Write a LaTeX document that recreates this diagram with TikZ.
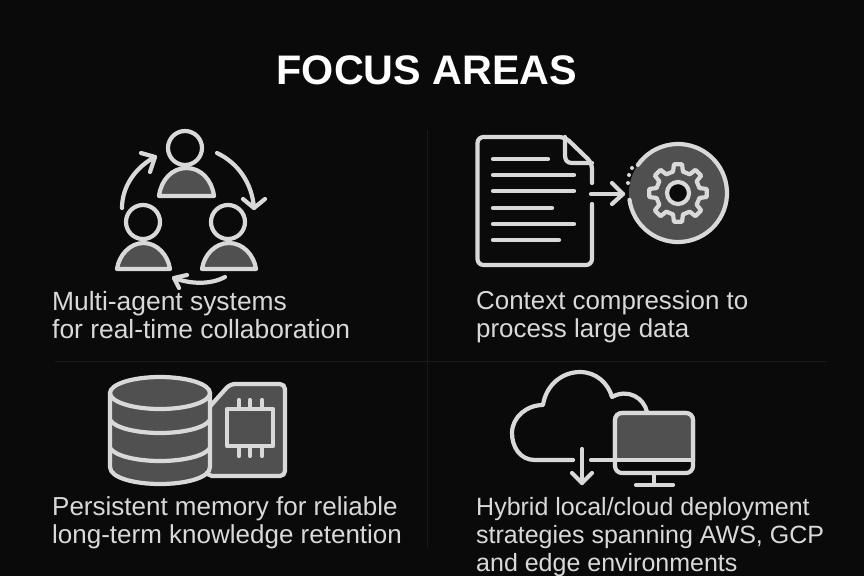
\documentclass[tikz,border=0pt]{standalone}
\usepackage{fontspec}
\setmainfont{Liberation Sans}
\definecolor{bg}{HTML}{0A0A0A}
\definecolor{ink}{HTML}{D9D9D9}
\definecolor{midgray}{HTML}{505050}
\definecolor{rule}{HTML}{191919}
\tikzset{
  line/.style={draw=ink,line width=4.2pt,line cap=round,line join=round},
  solid part/.style={line,fill=midgray},
  divider/.style={draw=rule,line width=1pt},
  caption/.style={text=ink,align=left,inner sep=0pt,anchor=north west},
  heading/.style={text=white,font=\fontsize{41.3pt}{46pt}\selectfont\bfseries,inner sep=0pt}
}
\newcommand{\capsize}[1]{\fontsize{#1}{28pt}\selectfont}
\begin{document}
\begin{tikzpicture}[x=1pt,y=-1pt]
\useasboundingbox (0,0) rectangle (864,576);
\fill[bg] (0,0) rectangle (864,576);
% dividers
\coordinate (vt) at (427,130); \coordinate (vb) at (427,548);
\coordinate (hl) at (55,361); \coordinate (hr) at (827,361);
\draw[divider] (vt) -- (vb);
\draw[divider] (hl) -- (hr);
% title
\node[heading] (title) at (427,70) {FOCUS AREAS};
% people
\foreach \hx/\hy/\bl/\br/\by/\bt in {185/148/159/214/196/168,143/222/117/170/269/243,228/222/202/256/269/243}{
  \draw[line] (\hx,\hy) circle (17);
  \draw[solid part] (\bl,\by) .. controls (\bl+2,\bt+12) and (\bl+13,\bt) .. ({(\bl+\br)/2},\bt)
     .. controls (\br-13,\bt) and (\br-2,\bt+12) .. (\br,\by) -- cycle;
}
\draw[line] (122,208) .. controls (122,186) and (136,167) .. (155,157);
\draw[line] (141,153) -- (155,157) -- (150,172);
\draw[line] (217,153) .. controls (238,163) and (252,183) .. (254,208);
\draw[line] (243,199) -- (254,208) -- (265,199);
\draw[line] (225,277) .. controls (210,285) and (190,284) .. (174,278);
\draw[line] (187,275) -- (174,278) -- (179,288);
% document
\draw[line,rounded corners=6pt] (592,183) -- (592,163) -- (565,137) -- (477.5,137) -- (477.5,265) -- (592,265) -- (592,204);
\draw[line] (592,163) -- (572,163) .. controls (567,163) and (565,160) .. (565,155) -- (565,137);
\foreach \ly/\lx in {159/548,175/574,191/574,208/552,224/574,240/559}{
  \draw[line] (493,\ly) -- (\lx,\ly);
}
\draw[line] (591,194) -- (623,194);
\draw[line] (612,183) -- (623,194) -- (612,204);
% gear disc
\begin{scope}[shift={(678,193)}]
  \fill[midgray] (0,0) circle (49);
  \draw[line] (172:49) arc[start angle=172,end angle=-145,radius=49];
  \fill[ink] (-46,-25) circle (2) (-49,-18) circle (2) (-50,-10) circle (2);
  \draw[solid part] (-8:29)
    \foreach \a in {0,45,...,315}{
      -- (\a-8:29) -- (\a+8:29) -- (\a+13:22) -- (\a+32:22)
    } -- cycle;
  \draw[line,fill=bg] (0,0) circle (11);
\end{scope}
% database
\draw[solid part,rounded corners=5pt] (207,476) -- (285,476) -- (285,384) -- (230,384) -- (213,403) -- (207,410) -- cycle;
\draw[solid part] (110,393) -- (110,467) .. controls (110,478) and (135,484) .. (160,484)
   .. controls (185,484) and (210,478) .. (210,467) -- (210,393) -- cycle;
\draw[solid part] (160,393) ellipse (50 and 16);
\draw[line] (110,420) .. controls (115,428) and (137,433) .. (160,433) .. controls (183,433) and (205,428) .. (210,420);
\draw[line] (110,448) .. controls (115,456) and (137,461) .. (160,461) .. controls (183,461) and (205,456) .. (210,448);
\draw[solid part] (227,409) rectangle (273,446);
\foreach \px in {239,250,262}{
  \draw[line] (\px,400) -- (\px,409);
  \draw[line] (\px,446) -- (\px,456);
}
% cloud
\draw[line] (573,460) -- (535,460) .. controls (520,460) and (512,447) .. (512,433)
  .. controls (512,417) and (527,405) .. (543,405)
  .. controls (546,385) and (562,372) .. (580,372)
  .. controls (596,372) and (608,383) .. (612,397)
  .. controls (628,388) and (644,398) .. (647,412);
\draw[line] (591,460) -- (615,460);
\draw[line,rounded corners=7pt,fill=bg] (615,413) rectangle (693,473);
\begin{scope}
  \clip (610,405) rectangle (700,460);
  \draw[line,rounded corners=7pt,fill=midgray] (615,413) rectangle (693,473);
\end{scope}
\draw[line] (615,460) -- (693,460);
\draw[line] (654,473) -- (654,485);
\draw[line] (636,485) -- (673,485);
\draw[line] (582,449) -- (582,483);
\draw[line] (572,473) -- (582,483) -- (592,473);
% captions
\node[caption,font=\capsize{26.4pt}] (capa) at (52,291) {Multi-agent systems\\for real-time collaboration};
\node[caption,font=\capsize{25.9pt}] (capb) at (476,291) {Context compression to\\process large data};
\node[caption,font=\capsize{26pt}] (capc) at (52,496) {Persistent memory for reliable\\long-term knowledge retention};
\node[caption,font=\capsize{25pt}] (capd) at (476,497) {Hybrid local/cloud deployment\\strategies spanning AWS, GCP\\and edge environments};
\end{tikzpicture}
\end{document}
